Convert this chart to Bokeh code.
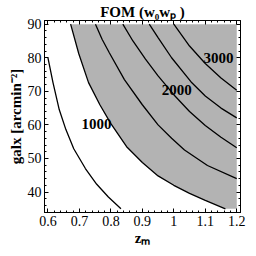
from bokeh.plotting import figure
from bokeh.models import Range1d, FixedTicker, LinearAxis
from bokeh.core.properties import value
from bokeh.embed import file_html
from bokeh.resources import INLINE

# contour levels and their traced points (z_m, galx)
z_500 = [0.600, 0.616, 0.636, 0.657, 0.682, 0.719, 0.755, 0.792, 0.832]
g_500 = [80.0, 72.6, 64.5, 58.6, 52.9, 47.0, 42.3, 38.5, 35.0]
z_1000 = [0.672, 0.698, 0.729, 0.765, 0.800, 0.850, 0.900, 0.950, 1.000, 1.050, 1.100, 1.164]
g_1000 = [90.0, 81.2, 72.6, 66.0, 60.4, 53.5, 48.8, 44.8, 42.0, 39.6, 37.5, 35.0]
z_1500 = [0.751, 0.772, 0.795, 0.843, 0.900, 0.950, 0.993, 1.034, 1.107, 1.200]
g_1500 = [90.0, 85.5, 81.5, 73.5, 66.0, 60.0, 56.0, 52.5, 47.9, 44.0]
z_2000 = [0.838, 0.870, 0.910, 0.950, 1.000, 1.050, 1.100, 1.150, 1.200]
g_2000 = [90.0, 85.0, 79.6, 74.6, 69.0, 64.0, 59.8, 56.3, 53.2]
z_2500 = [0.922, 0.950, 0.993, 1.055, 1.100, 1.150, 1.200]
g_2500 = [90.0, 86.0, 80.0, 72.8, 68.6, 65.0, 62.1]
z_3000 = [1.000, 1.050, 1.100, 1.150, 1.200]
g_3000 = [90.0, 83.5, 78.3, 74.0, 70.3]

z_domain = [0.6, 1.2]
g_domain = [35.0, 90.0]

label_text = ["1000", "2000", "3000"]
label_z = [0.754, 1.009, 1.142]
label_g = [60.4, 70.4, 80.0]

x_ticks = [0.6, 0.7, 0.8, 0.9, 1.0, 1.1, 1.2]
x_tick_labels = ["0.6", "0.7", "0.8", "0.9", "1", "1.1", "1.2"]
x_minor = [0.6 + 0.02 * i for i in range(31)]
y_ticks = [40, 50, 60, 70, 80, 90]
y_tick_labels = ["40", "50", "60", "70", "80", "90"]
y_minor = [34 + 2 * i for i in range(29)]

title_text = "FOM (w\u2080w\u209a )"
x_label = "z\u2098"
y_label = "galx [arcmin\u207b\u00b2]"

SERIF = "Liberation Serif"

p = figure(width=248, height=248, output_backend="svg", toolbar_location=None,
           x_range=Range1d(0.589, 1.212), y_range=Range1d(33.9, 91.1),
           min_border_left=44, min_border_right=8, min_border_top=20,
           min_border_bottom=34, title=title_text)
p.grid.visible = False
p.outline_line_color = "black"
p.outline_line_width = 1

p.title.align = "center"
p.title.text_font = SERIF
p.title.text_font_style = "bold"
p.title.text_font_size = "15px"
p.title.text_color = "black"
p.title.standoff = 2
p.title.offset = 4

# shaded region (FOM above 1000)
shade_z = z_1000 + [z_domain[1], z_domain[1]]
shade_g = g_1000 + [g_domain[0], g_domain[1]]
p.patch(shade_z, shade_g, fill_color="#b3b3b3", line_color=None)

for zz, gg in [(z_500, g_500), (z_1000, g_1000), (z_1500, g_1500),
               (z_2000, g_2000), (z_2500, g_2500), (z_3000, g_3000)]:
    p.line(zz, gg, line_color="black", line_width=1.3)

p.text(x=label_z, y=label_g, text=label_text, text_font=value(SERIF),
       text_font_style="bold", text_font_size="15px", text_align="center",
       text_baseline="middle", text_color="black")

def style_axis(ax, ticks, minor, labels, show_labels):
    ax.ticker = FixedTicker(ticks=ticks, minor_ticks=minor)
    ax.major_tick_in = 4
    ax.major_tick_out = 0
    ax.minor_tick_in = 2
    ax.minor_tick_out = 0
    ax.axis_line_color = "black"
    ax.major_tick_line_color = "black"
    ax.minor_tick_line_color = "black"
    if show_labels:
        ax.major_label_overrides = dict(zip(ticks, labels))
        ax.major_label_text_font = SERIF
        ax.major_label_text_font_size = "14px"
        ax.major_label_text_color = "black"
        ax.major_label_standoff = 3
        ax.axis_label_text_font = SERIF
        ax.axis_label_text_font_style = "bold"
        ax.axis_label_text_font_size = "15px"
        ax.axis_label_text_color = "black"
        ax.axis_label_standoff = 1
    else:
        ax.major_label_overrides = {t: "" for t in ticks}
        ax.major_label_text_font_size = "1px"
        ax.major_label_standoff = 0

style_axis(p.xaxis[0], x_ticks, x_minor, x_tick_labels, True)
style_axis(p.yaxis[0], y_ticks, y_minor, y_tick_labels, True)
p.xaxis[0].axis_label = x_label
p.yaxis[0].axis_label = y_label
top = LinearAxis()
right = LinearAxis()
style_axis(top, x_ticks, x_minor, x_tick_labels, False)
style_axis(right, y_ticks, y_minor, y_tick_labels, False)
p.add_layout(top, "above")
p.add_layout(right, "right")

open("out.html", "w").write(file_html(p, INLINE))
